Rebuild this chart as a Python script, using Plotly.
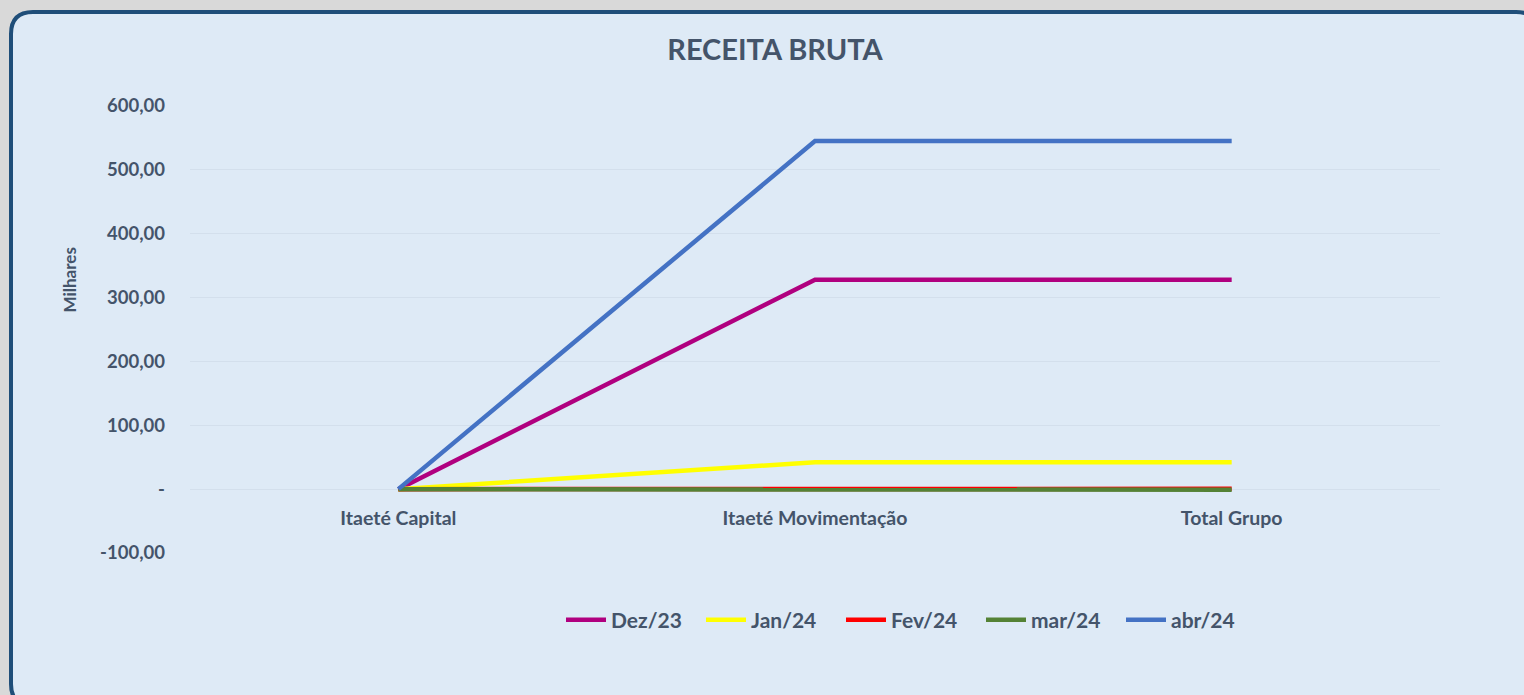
import plotly.graph_objects as go

categories = ["Itaeté Capital", "Itaeté Movimentação", "Total Grupo"]
series_names = ["Dez/23", "Jan/24", "Fev/24", "mar/24", "abr/24"]
dez23 = [0, 328, 328]
jan24 = [0, 42, 42]
fev24 = [0, 0.5, 0.5]
mar24 = [0, -1, -1]
abr24 = [0, 545, 545]
series_values = [dez23, jan24, fev24, mar24, abr24]
colors = ["#b0007f", "#ffff00", "#ff0000", "#548235", "#4472c4"]
y_tickvals = [-100, 0, 100, 200, 300, 400, 500, 600]
y_ticktext = ["-100,00", "-", "100,00", "200,00", "300,00", "400,00", "500,00", "600,00"]

W, H = 1524, 695
L, R, T, B = 190, 1440, 106, 553
PW, PH = R - L, B - T


def px(x):
    return (x - L) / PW


def py(y):
    return (B - y) / PH


TXT = "#44546a"
FONT = "Lato"

fig = go.Figure()
for name, vals, col in zip(series_names, series_values, colors):
    fig.add_trace(go.Scatter(
        x=[0, 1, 2], y=vals, name=f"<b>{name}</b>", mode="lines",
        line=dict(color=col, width=4.5),
    ))

# rounded chart box
x0, y0, x1, y1, r = 11, 12, 1538, 706, 22
path = (
    f"M {px(x0)},{py(y0 + r)} "
    f"Q {px(x0)},{py(y0)} {px(x0 + r)},{py(y0)} "
    f"L {px(x1 - r)},{py(y0)} "
    f"Q {px(x1)},{py(y0)} {px(x1)},{py(y0 + r)} "
    f"L {px(x1)},{py(y1 - r)} "
    f"Q {px(x1)},{py(y1)} {px(x1 - r)},{py(y1)} "
    f"L {px(x0 + r)},{py(y1)} "
    f"Q {px(x0)},{py(y1)} {px(x0)},{py(y1 - r)} Z"
)
fig.add_shape(type="path", path=path, xref="paper", yref="paper",
              fillcolor="#deeaf6", line=dict(color="#1f4e79", width=4),
              layer="below")

fig.add_annotation(text="<b>Milhares</b>", x=px(56), y=py(280), xref="paper", yref="paper",
                   textangle=-90, showarrow=False, font=dict(family=FONT, size=17, color=TXT))

fig.update_layout(
    width=W, height=H,
    margin=dict(l=L, r=W - R, t=T, b=H - B),
    paper_bgcolor="#d9d9d9",
    plot_bgcolor="rgba(0,0,0,0)",
    title=dict(text="<b>RECEITA BRUTA</b>", xref="paper", x=px(775), xanchor="center",
               yref="container", y=1 - 50 / H, yanchor="middle",
               font=dict(family=FONT, size=29, color=TXT)),
    showlegend=True,
    legend=dict(orientation="h", x=px(911), xanchor="center", y=py(620), yanchor="middle",
                font=dict(family=FONT, size=21, color=TXT), bgcolor="rgba(0,0,0,0)",
                itemwidth=40, tracegroupgap=0, entrywidth=85, entrywidthmode="pixels"),
    font=dict(family=FONT, color=TXT),
)
fig.update_xaxes(
    range=[-0.5, 2.5], tickvals=[0, 1, 2], ticktext=[f"<b>{c}</b>" for c in categories],
    anchor="free", position=py(490), showgrid=False, showline=False, zeroline=False,
    ticks="", ticklabelstandoff=14,
    tickfont=dict(family=FONT, size=19.5, color=TXT),
)
fig.update_yaxes(
    range=[-100, 600], tickvals=y_tickvals, ticktext=[f"<b>{t}</b>" for t in y_ticktext],
    showgrid=True, gridcolor="#d3dfec", gridwidth=1, zeroline=False, showline=False,
    ticks="", ticklabelstandoff=24,
    tickfont=dict(family=FONT, size=18.5, color=TXT),
)

fig.write_html(
    "out.html",
    config={"displayModeBar": False},
    post_script="document.body.style.margin='0';document.body.style.background='#d9d9d9';",
)
